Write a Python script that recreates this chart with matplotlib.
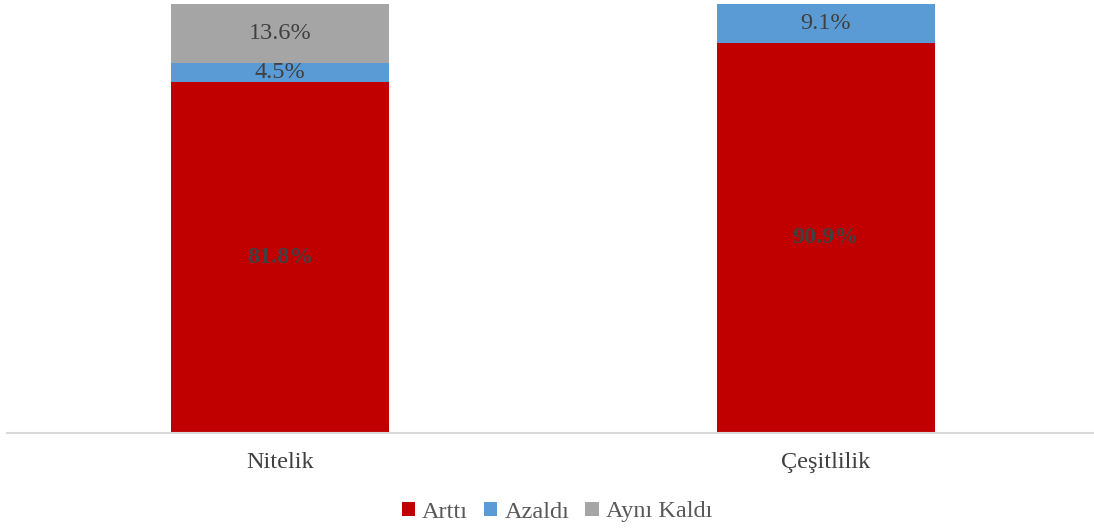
import matplotlib
matplotlib.use("Agg")
import matplotlib.pyplot as plt
import numpy as np

categories = ["Nitelik", "Çeşitlilik"]
series_names = ["Arttı", "Azaldı", "Aynı Kaldı"]
artti = [81.8, 90.9]
azaldi = [4.5, 9.1]
ayni = [13.6, 0.0]
label_bold = [True, False, False]

colors = ["#C00000", "#5B9BD5", "#A5A5A5"]
plt.rcParams['font.family'] = ['Liberation Serif', 'DejaVu Serif']

W, H = 1094, 528
fig = plt.figure(figsize=(W/100, H/100), dpi=100)
left_px, right_px = 7, 1099
bottom_px, top_px = 432.5, 4
ax = fig.add_axes([left_px/W, (H-bottom_px)/H, (right_px-left_px)/W, (bottom_px-top_px)/H])

x = np.arange(len(categories))
bottoms = np.zeros(len(categories))
for vals, c, name, bold in zip([artti, azaldi, ayni], colors, series_names, label_bold):
    vals = np.array(vals)
    ax.bar(x, vals, width=0.4, bottom=bottoms, color=c, label=name, edgecolor='none')
    for xi, v, b in zip(x, vals, bottoms):
        if v > 0:
            ax.text(xi, b + v/2, f"{v:.1f}%", ha='center', va='center', fontsize=17.5,
                    color='#404040', fontweight='bold' if bold else 'normal')
    bottoms += vals

ax.set_xlim(-0.5, 1.5)
ax.set_ylim(0, 100)
ax.set_yticks([])
ax.set_xticks(x)
ax.set_xticklabels(categories, fontsize=17.5, color='#404040')
ax.tick_params(axis='x', length=0, pad=14)
for s in ['top', 'right', 'left']:
    ax.spines[s].set_visible(False)
ax.spines['bottom'].set_color('#D9D9D9')
ax.spines['bottom'].set_linewidth(1.5)
ax.patch.set_alpha(0)

leg = fig.legend(loc='center', bbox_to_anchor=(557/W, 1-512/H), ncol=3, frameon=False,
                 fontsize=17.5, handlelength=0.55, handleheight=0.55, handletextpad=0.3,
                 columnspacing=0.65, labelcolor='#595959')

fig.savefig("out.png", dpi=100)
